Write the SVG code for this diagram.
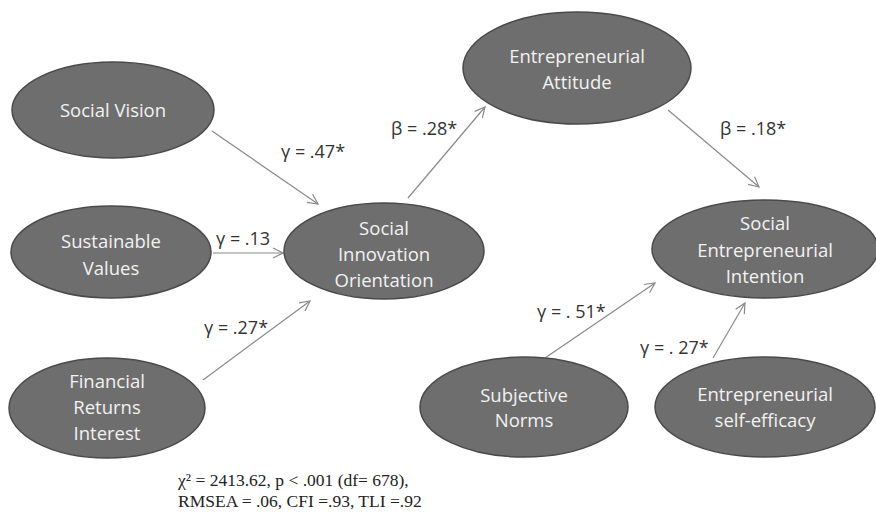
<svg xmlns="http://www.w3.org/2000/svg" width="876" height="516" viewBox="0 0 876 516">
<defs>
<marker id="ah" viewBox="0 0 12 12" refX="11" refY="6" markerWidth="12" markerHeight="12" markerUnits="userSpaceOnUse" orient="auto">
<path d="M1,1 L11,6 L1,11" fill="none" stroke="#8a8a8a" stroke-width="1.2"/>
</marker>
<style>
.node ellipse{fill:#6e6e6e;stroke:#4a4a4a;stroke-width:1.5}
.node text{font-family:"Open Sans","Noto Sans",sans-serif;font-size:18.5px;fill:#f2f2f2;text-anchor:middle}
.conn line{stroke:#8a8a8a;stroke-width:1.2;marker-end:url(#ah)}
.lbl{font-family:"Open Sans","Noto Sans",sans-serif;font-size:18px;fill:#333}
.fit{font-family:"Liberation Serif",serif;font-size:17.5px;fill:#222}
</style>
</defs>
<rect width="876" height="516" fill="#fff"/>
<g class="conn" id="connectors">
<line x1="212" y1="131" x2="318" y2="204"/>
<line x1="213" y1="253" x2="283" y2="253"/>
<line x1="203" y1="380" x2="310" y2="301"/>
<line x1="408" y1="198" x2="485" y2="107"/>
<line x1="668" y1="110" x2="759" y2="187"/>
<line x1="545" y1="358" x2="655" y2="283"/>
<line x1="713" y1="358" x2="745" y2="303"/>
</g>
<g class="node" id="social-vision"><ellipse cx="113" cy="110" rx="101" ry="48"/><text x="113" y="117">Social Vision</text></g>
<g class="node" id="sustainable-values"><ellipse cx="111" cy="252" rx="100" ry="46"/><text x="111" y="248">Sustainable</text><text x="111" y="275">Values</text></g>
<g class="node" id="financial"><ellipse cx="107" cy="408" rx="98" ry="50"/><text x="107" y="388">Financial</text><text x="107" y="414">Returns</text><text x="107" y="440">Interest</text></g>
<g class="node" id="sio"><ellipse cx="384" cy="251" rx="100" ry="48"/><text x="384" y="235">Social</text><text x="384" y="261">Innovation</text><text x="384" y="287">Orientation</text></g>
<g class="node" id="attitude"><ellipse cx="577" cy="68" rx="114" ry="56"/><text x="577" y="63">Entrepreneurial</text><text x="577" y="89">Attitude</text></g>
<g class="node" id="sei"><ellipse cx="765" cy="249" rx="113" ry="49"/><text x="765" y="230">Social</text><text x="765" y="257">Entrepreneurial</text><text x="765" y="283">Intention</text></g>
<g class="node" id="subjective-norms"><ellipse cx="524" cy="407" rx="104" ry="50"/><text x="524" y="402">Subjective</text><text x="524" y="427">Norms</text></g>
<g class="node" id="self-efficacy"><ellipse cx="765" cy="407" rx="110" ry="50"/><text x="765" y="401">Entrepreneurial</text><text x="765" y="427">self-efficacy</text></g>
<g id="labels">
<text class="lbl" x="281" y="158">γ = .47*</text>
<text class="lbl" x="391" y="135">β = .28*</text>
<text class="lbl" x="720" y="135">β = .18*</text>
<text class="lbl" x="216" y="245">γ = .13</text>
<text class="lbl" x="204" y="334">γ = .27*</text>
<text class="lbl" x="537" y="318">γ = . 51*</text>
<text class="lbl" x="640" y="354">γ = . 27*</text>
</g>
<g id="fit">
<text class="fit" x="178" y="486">χ² = 2413.62, p &lt; .001 (df= 678),</text>
<text class="fit" x="178" y="507">RMSEA = .06, CFI =.93, TLI =.92</text>
</g>
</svg>
